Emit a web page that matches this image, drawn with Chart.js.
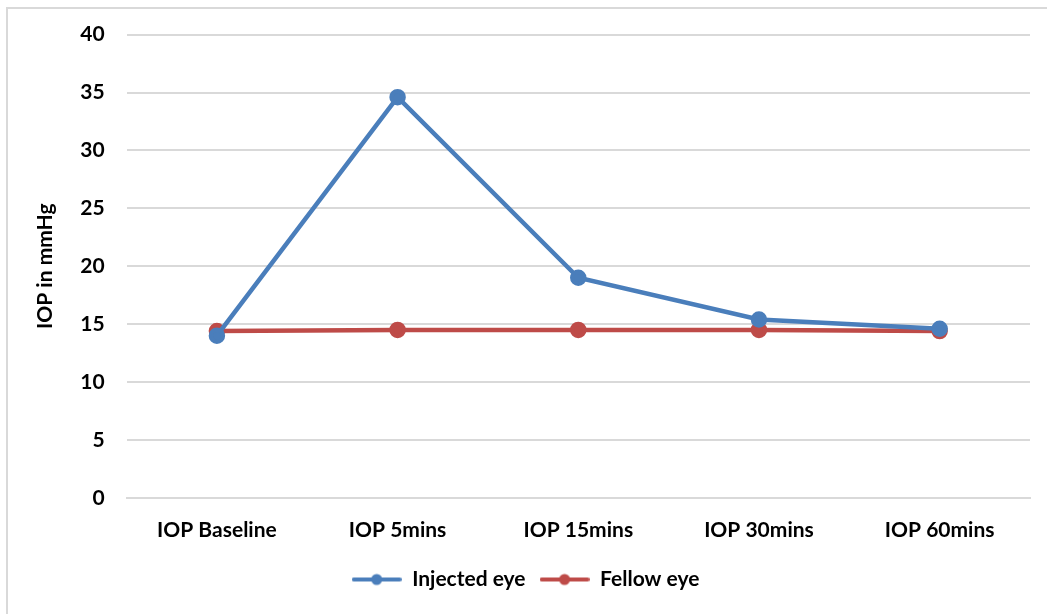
<!DOCTYPE html>
<html>
<head>
<meta charset="utf-8">
<script src="https://cdn.jsdelivr.net/npm/chart.js@4"></script>
<style>
  html, body { margin: 0; padding: 0; background: #fff; }
  #wrap { position: relative; width: 1047px; height: 614px; }
  #frame { position: absolute; left: 6px; top: 7px; right: -10px; bottom: -10px;
           border-left: 2px solid #d9d9d9; border-top: 2px solid #d9d9d9; pointer-events: none; }
  canvas { position: absolute; left: 0; top: 0; }
</style>
</head>
<body>
<div id="wrap">
  <canvas id="chart" width="1047" height="614"></canvas>
  <div id="frame"></div>
</div>
<script>
// data
const categories = ['IOP Baseline', 'IOP 5mins', 'IOP 15mins', 'IOP 30mins', 'IOP 60mins'];
const injectedEye = [14.0, 34.6, 19.0, 15.4, 14.6];
const fellowEye = [14.4, 14.5, 14.5, 14.5, 14.4];
const seriesNames = ['Injected eye', 'Fellow eye'];
const yTicks = [0, 5, 10, 15, 20, 25, 30, 35, 40];

const blue = '#4a7ebb';
const red = '#be4b48';
const fontFamily = 'Lato, "Open Sans", sans-serif';

// little line+dot marker for the legend
function legendMarker(color) {
    const c = document.createElement('canvas');
    c.width = 50;
    c.height = 14;
    const ctx = c.getContext('2d');
    ctx.strokeStyle = color;
    ctx.lineWidth = 4;
    ctx.lineCap = 'round';
    ctx.beginPath();
    ctx.moveTo(2, 7);
    ctx.lineTo(48, 7);
    ctx.stroke();
    ctx.fillStyle = color;
    ctx.beginPath();
    ctx.arc(25, 7, 5.5, 0, Math.PI * 2);
    ctx.fill();
    return c;
}

const chart = new Chart(document.getElementById('chart'), {
    type: 'line',
    data: {
        labels: categories,
        datasets: [{
            label: seriesNames[0],
            data: injectedEye,
            borderColor: blue,
            backgroundColor: blue,
            borderWidth: 4.5,
            pointRadius: 6,
            pointHoverRadius: 6,
            tension: 0
        }, {
            label: seriesNames[1],
            data: fellowEye,
            borderColor: red,
            backgroundColor: red,
            borderWidth: 4.5,
            pointRadius: 6,
            pointHoverRadius: 6,
            tension: 0
        }]
    },
    options: {
        responsive: false,
        animation: false,
        layout: { padding: { left: 21, right: 17, top: 26, bottom: 14 } },
        plugins: {
            tooltip: { enabled: false },
            legend: {
                position: 'bottom',
                labels: {
                    usePointStyle: true,
                    pointStyleWidth: 50,
                    boxHeight: 14,
                    color: '#000',
                    font: { family: fontFamily, size: 21, weight: 'bold' },
                    padding: 14,
                    generateLabels: function(ch) {
                        return ch.data.datasets.map((ds, i) => ({
                            text: ds.label,
                            pointStyle: legendMarker(ds.borderColor),
                            fillStyle: ds.borderColor,
                            strokeStyle: ds.borderColor,
                            lineWidth: 0,
                            hidden: false,
                            datasetIndex: i
                        }));
                    }
                }
            }
        },
        scales: {
            x: {
                offset: true,
                grid: { display: false },
                border: { display: true, color: '#d9d9d9', width: 2 },
                ticks: {
                    color: '#000',
                    padding: 12,
                    maxRotation: 0,
                    font: { family: fontFamily, size: 21, weight: 'bold' }
                }
            },
            y: {
                min: 0,
                max: 40,
                afterBuildTicks: axis => { axis.ticks = yTicks.map(v => ({ value: v })); },
                grid: { color: '#d9d9d9', lineWidth: 2, drawTicks: false },
                border: { display: false },
                title: {
                    display: true,
                    text: 'IOP in mmHg',
                    color: '#000',
                    padding: { top: 12, bottom: 0 },
                    font: { family: fontFamily, size: 21, weight: 'bold' }
                },
                ticks: {
                    color: '#000',
                    padding: 22,
                    font: { family: fontFamily, size: 21, weight: 'bold' }
                }
            }
        }
    }
});
</script>
</body>
</html>
